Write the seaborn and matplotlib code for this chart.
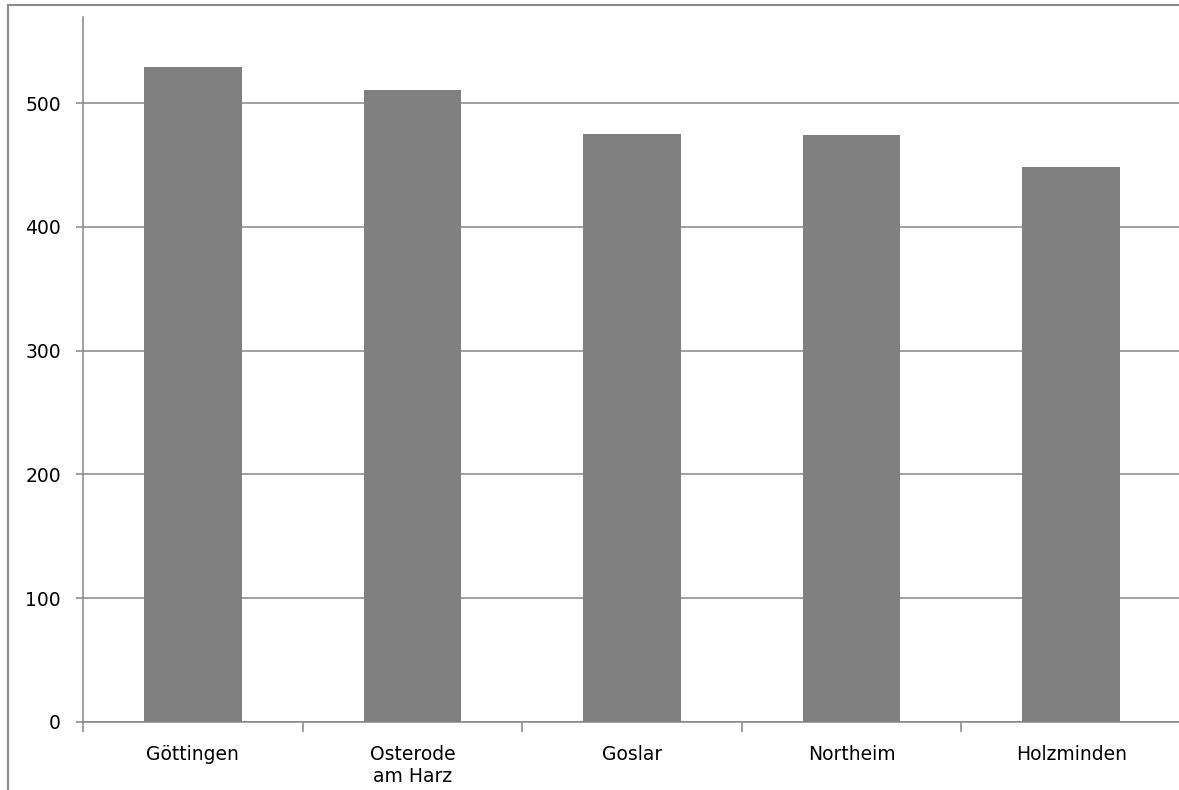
import matplotlib
matplotlib.use("Agg")
import matplotlib.pyplot as plt
import seaborn as sns
import numpy as np
from matplotlib.lines import Line2D

# Daten
landkreise = ["Göttingen", "Osterode\nam Harz", "Goslar", "Northeim", "Holzminden"]
werte = [529.5, 510.7, 475.3, 474.0, 448.2]
y_ticks = [0, 100, 200, 300, 400, 500]

sns.set_style("white")
plt.rcParams['font.family'] = ['DejaVu Sans']

W, H = 1179, 790
fig = plt.figure(figsize=(W / 100, H / 100), dpi=100)
ax = fig.add_axes([83 / W, (H - 721.7) / H, (1181 - 83) / W, (721.7 - 17.3) / H])

grau = "#868686"

sns.barplot(x=landkreise, y=werte, color="#808080", saturation=1,
            width=0.444, ax=ax, zorder=3, edgecolor="#808080", linewidth=0)

ax.set_xlim(-0.5, len(landkreise) - 0.5)
ax.set_ylim(0, 569.5)
ax.set_yticks(y_ticks)
ax.yaxis.grid(True, color=grau, linewidth=1.1, zorder=0)
ax.set_axisbelow(True)

# Achsen im Excel-Stil
for s in ["top", "right"]:
    ax.spines[s].set_visible(False)
for s in ["left", "bottom"]:
    ax.spines[s].set_color(grau)
    ax.spines[s].set_linewidth(1.1)

ax.set_xticks(np.arange(len(landkreise)))
ax.set_xticklabels(landkreise)
ax.set_xticks(np.arange(-0.5, len(landkreise)), minor=True)
ax.tick_params(axis="x", which="major", bottom=True, length=0, pad=17,
               labelsize=13.5, colors="black")
ax.tick_params(axis="x", which="minor", bottom=True, length=7, width=1.1,
               color=grau, direction="out")
ax.tick_params(axis="y", left=True, length=5, width=1.1, color=grau, pad=11,
               labelsize=13.5, labelcolor="black", direction="out")
ax.set_xlabel("")
ax.set_ylabel("")

# Rahmen des Diagrammbereichs (links und oben)
fig.add_artist(Line2D([8 / W, 8 / W], [0, 1 - 4.5 / H], transform=fig.transFigure,
                      color="#8a8a8a", linewidth=1.5))
fig.add_artist(Line2D([8 / W, 1], [1 - 4.5 / H, 1 - 4.5 / H], transform=fig.transFigure,
                      color="#8a8a8a", linewidth=1.5))

fig.savefig("out.png", dpi=100)
